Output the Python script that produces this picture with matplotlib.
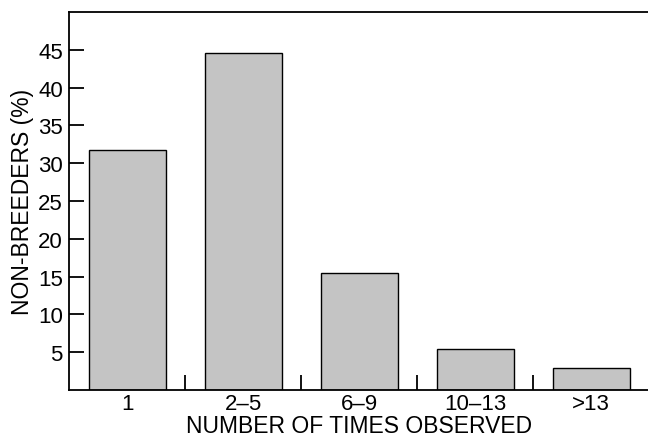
import numpy as np
import matplotlib.pyplot as plt

# Non-breeders by number of times observed
categories = ['1', '2\u20135', '6\u20139', '10\u201313', '>13']
percent = [31.8, 44.6, 15.5, 5.4, 2.9]
y_ticks = [5, 10, 15, 20, 25, 30, 35, 40, 45]

plt.rcParams['font.family'] = ['Liberation Sans', 'DejaVu Sans']

fig = plt.figure(figsize=(6.48, 4.39), dpi=100)
ax = fig.add_axes([0.1065, 0.1093, 0.8955, 0.8611])

x = np.arange(len(categories))
ax.bar(x, percent, width=0.664, color='#c4c4c4', edgecolor='black', linewidth=1.0)

ax.set_xlim(-0.5, 4.5)
ax.set_ylim(0, 50)

ax.set_yticks(y_ticks)
ax.tick_params(axis='y', direction='in', length=11, width=1.3, labelsize=16, pad=4.5)

ax.set_xticks(x)
ax.set_xticklabels(categories)
ax.set_xticks(x[:-1] + 0.5, minor=True)
ax.tick_params(axis='x', which='major', length=0, labelsize=16, pad=2)
ax.tick_params(axis='x', which='minor', direction='in', length=11, width=1.3)

for side in ['left', 'bottom', 'top']:
    ax.spines[side].set_linewidth(1.3)
ax.spines['right'].set_visible(False)

ax.set_xlabel('NUMBER OF TIMES OBSERVED', fontsize=16.5, labelpad=0)
ax.set_ylabel('NON-BREEDERS (%)', fontsize=16.5, labelpad=3)

fig.savefig('out.png', dpi=100)
